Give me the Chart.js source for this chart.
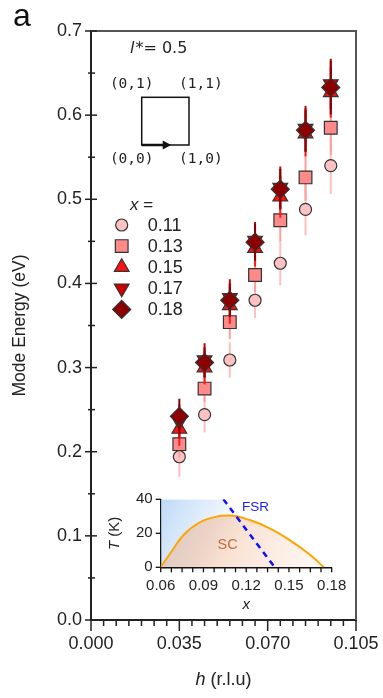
<!DOCTYPE html>
<html><head><meta charset="utf-8">
<script src="https://cdn.jsdelivr.net/npm/chart.js@4"></script>
<style>
html,body{margin:0;padding:0;background:#fff;}
#wrap{position:relative;width:383px;height:698px;overflow:hidden;}
#main{position:absolute;left:0;top:0;}
#inset{position:absolute;left:100px;top:485px;}
</style></head><body>
<div id="wrap"><canvas id="main" width="383" height="698"></canvas><canvas id="inset" width="260" height="130"></canvas></div>
<script>
// ---------------- data ----------------
const hValues = [0.035, 0.045, 0.055, 0.065, 0.075, 0.085, 0.095];
const seriesLabels = ['0.11', '0.13', '0.15', '0.17', '0.18'];
const energy011 = [0.194, 0.244, 0.309, 0.380, 0.424, 0.488, 0.540];
const energy013 = [0.209, 0.275, 0.354, 0.410, 0.475, 0.526, 0.585];
const energy015 = [0.227, 0.300, 0.374, 0.442, 0.503, 0.578, 0.627];
const energy017 = [0.236, 0.309, 0.383, 0.451, 0.514, 0.584, 0.637];
const energy018 = [0.242, 0.306, 0.380, 0.449, 0.512, 0.582, 0.633];
const error011 = [0.024, 0.021, 0.021, 0.021, 0.026, 0.031, 0.034];
const error013 = [0.016, 0.016, 0.020, 0.020, 0.025, 0.028, 0.032];
const error015 = [0.020, 0.020, 0.022, 0.022, 0.025, 0.027, 0.030];
const error017 = [0.020, 0.020, 0.022, 0.022, 0.025, 0.027, 0.030];
const error018 = [0.021, 0.018, 0.020, 0.022, 0.024, 0.026, 0.032];
const xTickLabels = ['0.000', '0.035', '0.070', '0.105'];
const yTickLabels = ['0.0', '0.1', '0.2', '0.3', '0.4', '0.5', '0.6', '0.7'];

// inset (phase diagram)
const domeX = [0.06, 0.0665, 0.076, 0.0875, 0.099, 0.1085, 0.1225, 0.1365, 0.1505, 0.165, 0.1745];
const domeT = [0, 8, 19, 26.5, 29.8, 30.4, 27.8, 22.9, 16, 7.2, 0];
const normalX = [0.06, 0.104, 0.14];
const normalT = [40, 40, 0];
const fsrX = [0.104, 0.14];
const fsrT = [40, 0];
const insetXTickLabels = ['0.06', '0.09', '0.12', '0.15', '0.18'];
const insetYTickLabels = ['0', '20', '40'];

// ---------------- styles ----------------
const FONT = "'Liberation Sans', Arial, Helvetica, sans-serif";
Chart.defaults.font.family = FONT;
Chart.defaults.color = '#222';
const seriesStyles = [
  {pointStyle: 'circle',   radius: 6,   rotation: 0,   fill: '#FFC2C2', bar: 'rgba(255,175,175,0.8)'},
  {pointStyle: 'rect',     radius: 9,   rotation: 0,   fill: '#FF8A8A', bar: '#FF9E9E'},
  {pointStyle: 'triangle', radius: 8.5, rotation: 0,   fill: '#FF1010', bar: '#FF1A1A'},
  {pointStyle: 'triangle', radius: 8.5, rotation: 180, fill: '#D00000', bar: '#D00000'},
  {pointStyle: 'rectRot',  radius: 9,   rotation: 0,   fill: '#8B0000', bar: '#8B0000'}
];
const energies = [energy011, energy013, energy015, energy017, energy018];
const errors = [error011, error013, error015, error017, error018];

const datasets = seriesLabels.map((lab, k) => ({
  label: lab,
  data: hValues.map((h, i) => ({x: h, y: energies[k][i]})),
  errors: errors[k],
  errorColor: seriesStyles[k].bar,
  pointStyle: seriesStyles[k].pointStyle,
  pointRadius: seriesStyles[k].radius,
  pointRotation: seriesStyles[k].rotation,
  pointBackgroundColor: seriesStyles[k].fill,
  pointBorderColor: '#333',
  pointBorderWidth: 1.2,
  showLine: false,
  order: seriesLabels.length - k
}));

const errorBarPlugin = {
  id: 'errbars',
  beforeDatasetDraw(chart, args) {
    const ds = chart.data.datasets[args.index];
    if (!ds.errors) return;
    const ctx = chart.ctx, xs = chart.scales.x, ys = chart.scales.y;
    ctx.save();
    ctx.strokeStyle = ds.errorColor;
    ctx.lineWidth = 2;
    ds.data.forEach((p, i) => {
      const px = xs.getPixelForValue(p.x);
      ctx.beginPath();
      ctx.moveTo(px, ys.getPixelForValue(p.y - ds.errors[i]));
      ctx.lineTo(px, ys.getPixelForValue(p.y + ds.errors[i]));
      ctx.stroke();
    });
    ctx.restore();
  }
};

const mainDecor = {
  id: 'mainDecor',
  afterDraw(chart) {
    const ctx = chart.ctx, xs = chart.scales.x, ys = chart.scales.y;
    const {left, right, top, bottom} = chart.chartArea;
    ctx.save();
    // frame top/right
    ctx.strokeStyle = '#555'; ctx.lineWidth = 2;
    ctx.beginPath(); ctx.moveTo(left, top); ctx.lineTo(right, top); ctx.lineTo(right, bottom); ctx.stroke();
    // tick marks
    ctx.strokeStyle = '#222'; ctx.lineWidth = 1.5;
    for (let i = 0; i <= 21; i++) {
      const px = xs.getPixelForValue(i * 0.005);
      const len = i % 7 === 0 ? 11 : 6;
      ctx.beginPath(); ctx.moveTo(px, bottom); ctx.lineTo(px, bottom + len); ctx.stroke();
    }
    for (let i = 0; i <= 14; i++) {
      const py = ys.getPixelForValue(i * 0.05);
      ctx.beginPath();
      if (i % 2 === 0) { ctx.moveTo(left - 6, py); ctx.lineTo(left + 6, py); }
      else { ctx.moveTo(left - 3, py); ctx.lineTo(left + 4, py); }
      ctx.stroke();
    }
    // panel letter
    ctx.fillStyle = '#111';
    ctx.font = '32px ' + FONT; ctx.textBaseline = 'alphabetic'; ctx.textAlign = 'left';
    ctx.fillText('a', 13, 26);
    // l* = 0.5
    ctx.font = "italic 16px 'DejaVu Sans', Verdana, sans-serif";
    ctx.fillStyle = '#222';
    ctx.fillText('l', left + 39, top + 22);
    const wl = ctx.measureText('l').width;
    ctx.font = "16px 'DejaVu Sans', Verdana, sans-serif";
    ctx.fillText('*= 0.5', left + 39 + wl + 1, top + 22);
    // square diagram
    const sqL = left + 50.7, sqT = top + 66.3, sqW = 47.3, sqH = 47.7;
    ctx.strokeStyle = '#111'; ctx.lineWidth = 1.5;
    ctx.strokeRect(sqL, sqT, sqW, sqH);
    ctx.lineWidth = 2.5;
    ctx.beginPath(); ctx.moveTo(sqL, sqT + sqH); ctx.lineTo(sqL + 23, sqT + sqH); ctx.stroke();
    ctx.fillStyle = '#111';
    ctx.beginPath();
    ctx.moveTo(sqL + 29.5, sqT + sqH); ctx.lineTo(sqL + 21, sqT + sqH - 4.5); ctx.lineTo(sqL + 21, sqT + sqH + 4.5);
    ctx.closePath(); ctx.fill();
    ctx.font = "14.5px 'DejaVu Sans Mono', 'Liberation Mono', monospace";
    ctx.textAlign = 'center'; ctx.textBaseline = 'middle'; ctx.fillStyle = '#222';
    ctx.fillText('(0,1)', sqL - 10, sqT - 13);
    ctx.fillText('(1,1)', sqL + sqW + 11.8, sqT - 13);
    ctx.fillText('(0,0)', sqL - 10, sqT + sqH + 14.5);
    ctx.fillText('(1,0)', sqL + sqW + 11.8, sqT + sqH + 14.5);
    // legend
    ctx.textAlign = 'left';
    ctx.font = 'italic 17px ' + FONT;
    ctx.fillText('x', left + 39, top + 174);
    const wx = ctx.measureText('x').width;
    ctx.font = '17px ' + FONT;
    ctx.fillText(' =', left + 39 + wx, top + 174);
    chart.data.datasets.forEach((ds, k) => {
      const y = top + 194 + k * 21.1;
      const x = left + 30.7;
      ctx.fillStyle = ds.pointBackgroundColor;
      ctx.strokeStyle = ds.pointBorderColor;
      ctx.lineWidth = ds.pointBorderWidth;
      Chart.helpers.drawPoint(ctx, {pointStyle: ds.pointStyle, radius: ds.pointRadius, rotation: ds.pointRotation, borderWidth: ds.pointBorderWidth}, x, y);
      ctx.fillStyle = '#222';
      ctx.font = '18px ' + FONT;
      ctx.fillText(ds.label, left + 56.7, y + 1);
    });
    // x axis title with italic h
    ctx.font = 'italic 18px ' + FONT;
    const t1 = 'h', t2 = ' (r.l.u)';
    const w1 = ctx.measureText(t1).width;
    ctx.font = '18px ' + FONT;
    const w2 = ctx.measureText(t2).width;
    const cx = (left + right) / 2, sx = cx - (w1 + w2) / 2;
    ctx.textBaseline = 'middle';
    ctx.font = 'italic 18px ' + FONT; ctx.fillText(t1, sx, 680);
    ctx.font = '18px ' + FONT; ctx.fillText(t2, sx + w1, 680);
    ctx.restore();
  }
};

new Chart(document.getElementById('main'), {
  type: 'scatter',
  data: {datasets},
  options: {
    responsive: false, animation: false, devicePixelRatio: 1,
    layout: {padding: {left: 0, top: 31, right: 27, bottom: 0}},
    plugins: {legend: {display: false}, tooltip: {enabled: false}},
    scales: {
      x: {
        type: 'linear', min: 0, max: 0.105,
        grid: {display: false, drawTicks: false},
        border: {display: true, color: '#222', width: 2},
        afterBuildTicks: s => { s.ticks = xTickLabels.map(t => ({value: parseFloat(t)})); },
        ticks: {padding: 13, font: {size: 18}, color: '#222', maxRotation: 0,
          callback: v => xTickLabels.find(t => Math.abs(parseFloat(t) - v) < 1e-9) || ''},
        afterFit: s => { s.height = 78; s.paddingLeft = 0; s.paddingRight = 0; }
      },
      y: {
        type: 'linear', min: 0, max: 0.7,
        grid: {display: false, drawTicks: false},
        border: {display: true, color: '#222', width: 2},
        afterBuildTicks: s => { s.ticks = yTickLabels.map(t => ({value: parseFloat(t)})); },
        ticks: {padding: 9, font: {size: 18}, color: '#222',
          callback: v => yTickLabels.find(t => Math.abs(parseFloat(t) - v) < 1e-9) || ''},
        title: {display: true, text: 'Mode Energy (eV)', font: {size: 17.5}, color: '#222', padding: {top: 9.5, bottom: 0}},
        afterFit: s => { s.width = 91; s.paddingTop = 0; s.paddingBottom = 0; }
      }
    }
  },
  plugins: [errorBarPlugin, mainDecor]
});

// ---------------- inset ----------------
const insetDecor = {
  id: 'insetDecor',
  afterDraw(chart) {
    const ctx = chart.ctx, xs = chart.scales.x, ys = chart.scales.y;
    const {left, right, top, bottom} = chart.chartArea;
    ctx.save();
    ctx.strokeStyle = '#111'; ctx.lineWidth = 1.3;
    for (let i = 0; i <= 16; i++) {
      const px = xs.getPixelForValue(0.06 + i * 0.0075);
      ctx.beginPath(); ctx.moveTo(px, bottom); ctx.lineTo(px, bottom + 5); ctx.stroke();
    }
    insetYTickLabels.forEach(t => {
      const py = ys.getPixelForValue(parseFloat(t));
      ctx.beginPath(); ctx.moveTo(left - 5, py); ctx.lineTo(left, py); ctx.stroke();
    });
    // labels
    ctx.fillStyle = '#1a1aff';
    ctx.font = '13.5px ' + FONT; ctx.textBaseline = 'middle'; ctx.textAlign = 'left';
    ctx.fillText('FSR', xs.getPixelForValue(0.117), ys.getPixelForValue(35.3));
    ctx.fillStyle = '#C0703E';
    ctx.font = '14.5px ' + FONT; ctx.textAlign = 'center';
    ctx.fillText('SC', xs.getPixelForValue(0.1069), ys.getPixelForValue(13.1));
    // axis titles
    ctx.fillStyle = '#222';
    ctx.font = 'italic 15px ' + FONT;
    ctx.fillText('x', (left + right) / 2, 120);
    ctx.save();
    ctx.translate(15, (top + bottom) / 2);
    ctx.rotate(-Math.PI / 2);
    ctx.font = 'italic 15px ' + FONT;
    const wT = ctx.measureText('T').width;
    ctx.font = '15px ' + FONT;
    const wR = ctx.measureText(' (K)').width;
    ctx.textAlign = 'left';
    ctx.font = 'italic 15px ' + FONT; ctx.fillText('T', -(wT + wR) / 2, 0);
    ctx.font = '15px ' + FONT; ctx.fillText(' (K)', -(wT + wR) / 2 + wT, 0);
    ctx.restore();
    ctx.restore();
  }
};

function normalFill(ctx) {
  const c = ctx.chart, ca = c.chartArea;
  if (!ca) return 'rgba(0,0,0,0)';
  const g = c.ctx.createLinearGradient(ca.left, ca.top, ca.left + 75, ca.top + 38);
  g.addColorStop(0, 'rgba(175,208,245,0.8)');
  g.addColorStop(1, 'rgba(175,208,245,0)');
  return g;
}
function scFill(ctx) {
  const c = ctx.chart, ca = c.chartArea;
  if (!ca) return 'rgba(0,0,0,0)';
  const xs = c.scales.x, ys = c.scales.y;
  const g = c.ctx.createLinearGradient(xs.getPixelForValue(0.10), ys.getPixelForValue(30), xs.getPixelForValue(0.17), ys.getPixelForValue(0));
  g.addColorStop(0, 'rgba(238,172,130,0.45)');
  g.addColorStop(1, 'rgba(246,190,160,0.12)');
  return g;
}

new Chart(document.getElementById('inset'), {
  type: 'scatter',
  data: {datasets: [
    {label: 'normal', data: normalX.map((x, i) => ({x, y: normalT[i]})), showLine: true, fill: 'origin',
     borderWidth: 0, borderColor: 'rgba(0,0,0,0)', pointRadius: 0, backgroundColor: normalFill, order: 3},
    {label: 'SC', data: domeX.map((x, i) => ({x, y: domeT[i]})), showLine: true, fill: 'origin',
     borderColor: '#FFA500', borderWidth: 2, cubicInterpolationMode: 'monotone', pointRadius: 0, backgroundColor: scFill, order: 2},
    {label: 'FSR', data: fsrX.map((x, i) => ({x, y: fsrT[i]})), showLine: true, fill: false,
     borderColor: '#1010FF', borderWidth: 2.5, borderDash: [6, 5], pointRadius: 0, order: 1}
  ]},
  options: {
    responsive: false, animation: false, devicePixelRatio: 1,
    layout: {padding: {left: 0, top: 14.3, right: 28.3, bottom: 0}},
    plugins: {legend: {display: false}, tooltip: {enabled: false}},
    scales: {
      x: {
        type: 'linear', min: 0.06, max: 0.18,
        grid: {display: false, drawTicks: false},
        border: {display: true, color: '#111', width: 1.5},
        afterBuildTicks: s => { s.ticks = insetXTickLabels.map(t => ({value: parseFloat(t)})); },
        ticks: {padding: 10, font: {size: 15}, color: '#222', maxRotation: 0,
          callback: v => insetXTickLabels.find(t => Math.abs(parseFloat(t) - v) < 1e-9) || ''},
        afterFit: s => { s.height = 47.7; s.paddingLeft = 0; s.paddingRight = 0; }
      },
      y: {
        type: 'linear', min: 0, max: 40,
        grid: {display: false, drawTicks: false},
        border: {display: true, color: '#111', width: 1.5},
        afterBuildTicks: s => { s.ticks = insetYTickLabels.map(t => ({value: parseFloat(t)})); },
        ticks: {padding: 8, font: {size: 15}, color: '#222',
          callback: v => insetYTickLabels.find(t => Math.abs(parseFloat(t) - v) < 1e-9) || ''},
        afterFit: s => { s.width = 60.7; s.paddingTop = 0; s.paddingBottom = 0; }
      }
    }
  },
  plugins: [insetDecor]
});
</script>
</body></html>
